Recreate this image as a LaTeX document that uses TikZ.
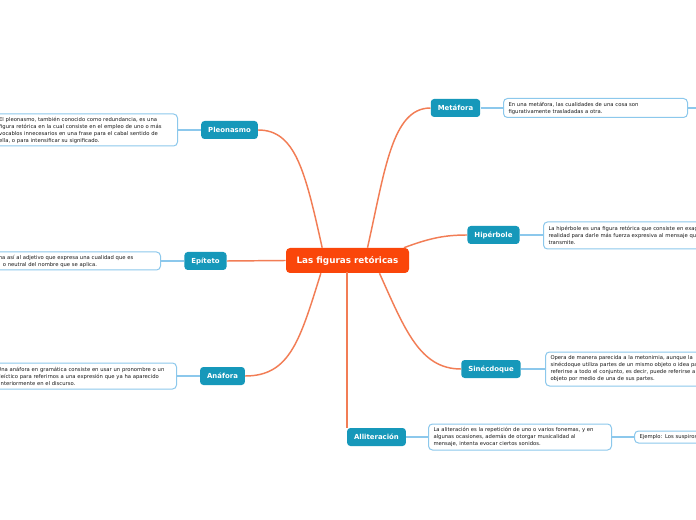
\documentclass[tikz,border=0pt]{standalone}
\usepackage{fontspec}
\setmainfont{DejaVu Sans}
\definecolor{centerfill}{RGB}{250,70,10}
\definecolor{topicfill}{RGB}{22,152,186}
\definecolor{orangeline}{RGB}{242,125,85}
\definecolor{blueline}{RGB}{140,200,236}
\definecolor{desctext}{RGB}{25,25,25}
\tikzset{
  centre/.style={fill=centerfill, text=white, rounded corners=3pt, minimum width=92.25pt, minimum height=18.75pt, font=\bfseries\fontsize{6.6}{8}\selectfont, inner sep=0pt},
  topic/.style={fill=topicfill, text=white, rounded corners=2.5pt, minimum height=13.5pt, inner xsep=5.25pt, inner ysep=0pt, font=\bfseries\fontsize{5.2}{6}\selectfont},
  desc/.style={draw=blueline, line width=0.75pt, fill=white, rounded corners=3pt, text=desctext, align=left, inner xsep=3.75pt, inner ysep=0pt, font=\fontsize{3.95}{5.25}\selectfont},
  branch/.style={draw=orangeline, line width=1.1pt},
  leaf/.style={draw=blueline, line width=0.8pt}
}
\begin{document}
\begin{tikzpicture}[x=0.75pt,y=-0.75pt]
\useasboundingbox (0,0) rectangle (696,520);
\fill[white] (0,0) rectangle (696,520);
\clip (0,0) rectangle (696,520);

% central and topics
\node[centre] (c) at (347.5,260.5) {Las figuras retóricas};
\node[topic] (met) at (455.5,108) {Metáfora};
\node[topic] (hip) at (493.5,235) {Hipérbole};
\node[topic] (sin) at (491,369) {Sinécdoque};
\node[topic] (all) at (376.5,437) {Alliteración};
\node[topic] (ple) at (229.5,130) {Pleonasmo};
\node[topic] (epi) at (205.5,261) {Epíteto};
\node[topic] (ana) at (222.5,376) {Anáfora};
\coordinate (cbot) at (347,272);

% descriptions
\node[desc, anchor=west, text width=130.5pt, minimum height=14.25pt] (dmet) at (503,108)
  {En una metáfora, las cualidades de una cosa son\\figurativamente trasladadas a otra.};
\coordinate (metout) at (700,108);
\node[desc, anchor=west, text width=180pt, minimum height=20.25pt] (dhip) at (543,235.5)
  {La hipérbole es una figura retórica que consiste en exagerar la\\realidad para darle más fuerza expresiva al mensaje que se\\transmite.};
\node[desc, anchor=west, text width=180pt, minimum height=25.5pt] (dsin) at (545,369)
  {Opera de manera parecida a la metonimia, aunque la\\sinécdoque utiliza partes de un mismo objeto o idea para\\referirse a todo el conjunto, es decir, puede referirse a un\\objeto por medio de una de sus partes.};
\node[desc, anchor=west, text width=129.75pt, minimum height=19.5pt] (dall) at (428,437)
  {La aliteración es la repetición de uno o varios fonemas, y en\\algunas ocasiones, además de otorgar musicalidad al\\mensaje, intenta evocar ciertos sonidos.};
\node[desc, anchor=west, text width=180pt, minimum height=9pt] (dej) at (634,437)
  {Ejemplo: Los suspiros se escapan de su boca de fresa};
\node[desc, anchor=east, text width=130pt, minimum height=24pt] (dple) at (178,130)
  {El pleonasmo, también conocido como redundancia, es una\\figura retórica en la cual consiste en el empleo de uno o más\\vocablos innecesarios en una frase para el cabal sentido de\\ella, o para intensificar su significado.};
\node[desc, anchor=east, text width=117.5pt, minimum height=13.5pt] (depi) at (161,261)
  {na así al adjetivo que expresa una cualidad que es\\\hspace*{3pt}o neutral del nombre que se aplica.};
\node[desc, anchor=east, text width=130.5pt, minimum height=19.5pt] (dana) at (177,376)
  {Una anáfora en gramática consiste en usar un pronombre o un\\deíctico para referirnos a una expresión que ya ha aparecido\\anteriormente en el discurso.};

% orange branches
\draw[branch] ([xshift=15pt]c.north) .. controls (385,170) and (392,108) .. (met.west);
\draw[branch] ([xshift=-4pt]c.north east) .. controls (430,238) and (445,235) .. (hip.west);
\draw[branch] ([xshift=24pt]c.south) .. controls (405,330) and (420,369) .. (sin.west);
\draw[branch] (cbot) -- (cbot |- all.north);
\draw[branch] ([xshift=-19pt]c.north) .. controls (305,170) and (295,130) .. (ple.east);
\draw[branch] (c.west) -- (epi.east);
\draw[branch] ([xshift=-20pt]c.south) .. controls (300,340) and (290,376) .. (ana.east);

% blue leaves
\draw[leaf] (met.east) -- (dmet.west);
\draw[leaf] (dmet.east) -- (metout);
\draw[leaf] (hip.east) -- (hip.east -| dhip.west);
\draw[leaf] (sin.east) -- (dsin.west);
\draw[leaf] (all.east) -- (dall.west);
\draw[leaf] (dall.east) -- (dej.west);
\draw[leaf] (ple.west) -- (dple.east);
\draw[leaf] (epi.west) -- (depi.east);
\draw[leaf] (ana.west) -- (dana.east);
\end{tikzpicture}
\end{document}
